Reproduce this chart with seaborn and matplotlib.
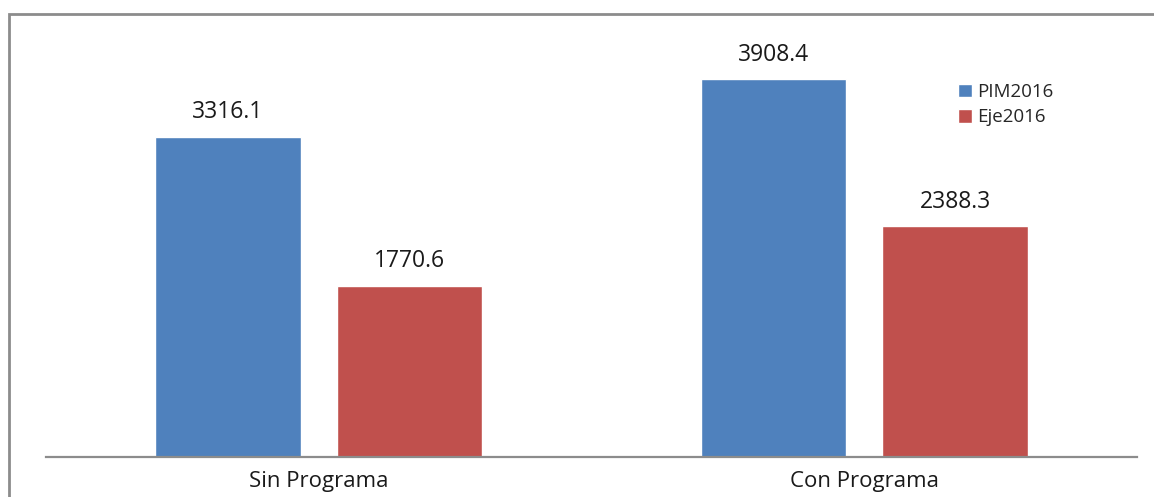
import matplotlib
matplotlib.use("Agg")
import matplotlib.pyplot as plt
from matplotlib.patches import Rectangle
import seaborn as sns
import pandas as pd

categories = ["Sin Programa", "Con Programa"]
pim2016 = [3316.1, 3908.4]
eje2016 = [1770.6, 2388.3]
series_names = ["PIM2016", "Eje2016"]
colors = ["#4F81BD", "#C0504D"]

df = pd.DataFrame({
    "categoria": categories * 2,
    "valor": pim2016 + eje2016,
    "serie": [series_names[0]] * 2 + [series_names[1]] * 2,
})

sns.set_style("white")
plt.rcParams["font.family"] = ["Open Sans", "DejaVu Sans"]

W, H = 1154, 497
fig = plt.figure(figsize=(W / 100, H / 100), dpi=100)
ax = fig.add_axes([46 / W, 1 - 457 / H, (1137 - 46) / W, (457 - 30) / H])

sns.barplot(data=df, x="categoria", y="valor", hue="serie",
            palette=colors, width=0.666, gap=0.2, ax=ax,
            saturation=1, legend=True)

ax.set_xlim(-0.5, 1.5)
ax.set_ylim(0, 427 / 0.0966)

for cont in ax.containers:
    ax.bar_label(cont, fmt="%.1f", padding=9, fontsize=16.5, color="#1a1a1a")

for s in ["top", "right", "left"]:
    ax.spines[s].set_visible(False)
ax.spines["bottom"].set_color("#8c8c8c")
ax.spines["bottom"].set_linewidth(1.6)
ax.set_yticks([])
ax.set_xlabel("")
ax.set_ylabel("")
ax.tick_params(axis="x", length=0, labelsize=16, pad=10, colors="#1a1a1a")

ax.legend(loc="upper left", bbox_to_anchor=(958 / W, 1 - 83 / H),
          bbox_transform=fig.transFigure, frameon=False, fontsize=13.5,
          handlelength=0.75, handleheight=0.75, handletextpad=0.25,
          labelspacing=0.4, borderpad=0, borderaxespad=0)

# outer chart frame
fig.patches.append(Rectangle((9 / W, -0.1), 1.2, 1 - 14 / H + 0.1,
                             transform=fig.transFigure, fill=False,
                             edgecolor="#8c8c8c", linewidth=2))

fig.savefig("out.png", dpi=100)
